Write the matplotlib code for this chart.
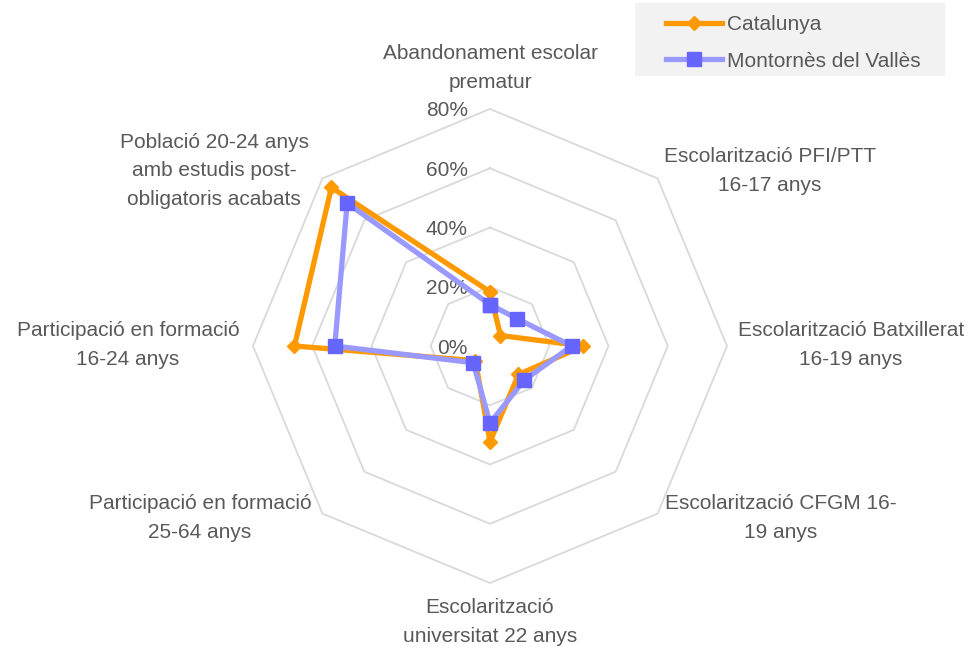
import numpy as np
import matplotlib.pyplot as plt
from matplotlib.patches import Rectangle

plt.rcParams['font.family'] = ['Liberation Sans', 'DejaVu Sans']

categories = [
    'Abandonament escolar\nprematur',
    'Escolarització PFI/PTT\n16-17 anys',
    'Escolarització Batxillerat\n16-19 anys',
    'Escolarització CFGM 16-\n19 anys',
    'Escolarització\nuniversitat 22 anys',
    'Participació en formació\n25-64 anys',
    'Participació en formació\n16-24 anys',
    'Població 20-24 anys\namb estudis post-\nobligatoris acabats',
]
catalunya = [18.3, 5.0, 31.5, 13.6, 32.3, 7.0, 66.0, 75.7]
montornes = [14.0, 13.0, 27.6, 16.3, 26.0, 8.0, 52.4, 68.2]
ring_values = [0, 20, 40, 60, 80]
ring_labels = ['0%', '20%', '40%', '60%', '80%']

# label centres in pixels (x from left, y from top)
label_pos = [(490, 68), (770, 171), (851, 345), (781, 518),
             (490, 622), (200, 518), (128, 345), (214, 171)]

W, H = 968, 649
TXT = '#595959'
FS = 15

fig = plt.figure(figsize=(W / 100, H / 100), dpi=100)
cx, cy, rad = 490, 346, 237
ax = fig.add_axes([(cx - rad) / W, (H - cy - rad) / H, 2 * rad / W, 2 * rad / H],
                  projection='polar')
ax.set_theta_zero_location('N')
ax.set_theta_direction(-1)
ax.set_ylim(0, 80)
ax.grid(False)
ax.spines['polar'].set_visible(False)
ax.set_xticks([])
ax.set_yticks([])
ax.patch.set_alpha(0)

n = len(categories)
theta = np.linspace(0, 2 * np.pi, n, endpoint=False)
theta_c = np.append(theta, theta[0])

for r in ring_values[1:]:
    ax.plot(theta_c, [r] * (n + 1), color='#d9d9d9', lw=1.3, zorder=1, clip_on=False)

for r, lab in zip(ring_values, ring_labels):
    ax.annotate(lab, xy=(0, r), xytext=(-22, -2), textcoords='offset pixels',
                ha='right', va='center', fontsize=FS, color=TXT, annotation_clip=False)

ax.plot(theta_c, catalunya + catalunya[:1], color='#ff9900', lw=3.8, marker='D',
        ms=7.3, label='Catalunya', zorder=3, clip_on=False)
ax.plot(theta_c, montornes + montornes[:1], color='#9999ff', lw=3.8, marker='s',
        ms=10.5, mfc='#6666ff', mec='#6666ff', label='Montornès del Vallès',
        zorder=4, clip_on=False)

for lab, (px, py) in zip(categories, label_pos):
    fig.text(px / W, 1 - py / H, lab, ha='center', va='center', multialignment='center',
             fontsize=FS, color=TXT, linespacing=1.65)

# legend background box
fig.patches.append(Rectangle((635 / W, 1 - 76 / H), 310 / W, 73 / H,
                             transform=fig.transFigure, facecolor='#f2f2f2',
                             edgecolor='none', zorder=0))
leg = fig.legend(loc='upper left', bbox_to_anchor=(666 / W, 1 - 15 / H), fontsize=FS,
                 frameon=False, handlelength=2.7, borderpad=0,
                 labelspacing=0.85, handletextpad=0.25, borderaxespad=0)
for t in leg.get_texts():
    t.set_color(TXT)

fig.savefig('out.png', dpi=100)
